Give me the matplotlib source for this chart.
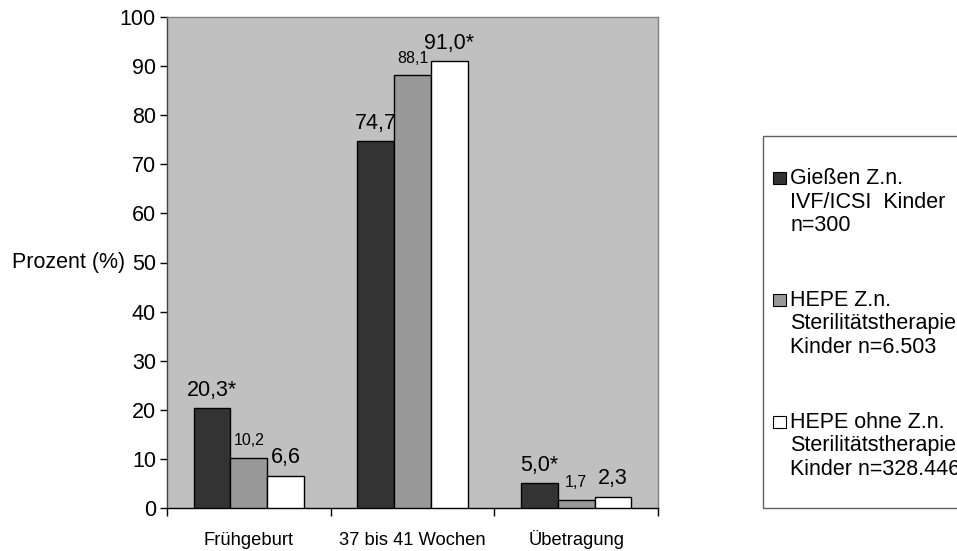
import matplotlib
matplotlib.use("Agg")
import matplotlib.pyplot as plt
from matplotlib.patches import Rectangle
import numpy as np

plt.rcParams['font.family'] = ['Liberation Sans', 'DejaVu Sans']

categories = ["Frühgeburt", "37 bis 41 Wochen", "Übetragung"]
series_names = [
    "Gießen Z.n.\nIVF/ICSI  Kinder\nn=300",
    "HEPE Z.n.\nSterilitätstherapie\nKinder n=6.503",
    "HEPE ohne Z.n.\nSterilitätstherapie\nKinder n=328.446",
]
giessen = [20.3, 74.7, 5.0]
hepe_steril = [10.2, 88.1, 1.7]
hepe_ohne = [6.6, 91.0, 2.3]
label_giessen = ["20,3*", "74,7", "5,0*"]
label_hepe_steril = ["10,2", "88,1", "1,7"]
label_hepe_ohne = ["6,6", "91,0*", "2,3"]

series = [giessen, hepe_steril, hepe_ohne]
labels = [label_giessen, label_hepe_steril, label_hepe_ohne]
colors = ["#333333", "#999999", "#ffffff"]
label_sizes = [15.5, 11.5, 15.5]

W, H = 957, 551
fig = plt.figure(figsize=(W / 100, H / 100), dpi=100)
ax = fig.add_axes([167 / W, 1 - 508 / H, (658 - 167) / W, (508 - 17) / H])
ax.set_facecolor("#c0c0c0")

x = np.arange(len(categories))
width = 0.225
for i, (vals, col, labs, fs) in enumerate(zip(series, colors, labels, label_sizes)):
    pos = x + (i - 1) * width
    bars = ax.bar(pos, vals, width, color=col, edgecolor="black", linewidth=1.0, zorder=3)
    for b, lab in zip(bars, labs):
        ax.annotate(lab, (b.get_x() + b.get_width() / 2, b.get_height()),
                    xytext=(0, 9), textcoords="offset points",
                    ha="center", va="baseline", fontsize=fs, zorder=4)

ax.set_xlim(-0.5, 2.5)
ax.set_ylim(0, 100)
ax.set_yticks(np.arange(0, 101, 10))
ax.tick_params(axis="y", labelsize=15.5, length=5, width=1, direction="out", pad=3)

ax.set_xticks(x)
ax.set_xticklabels(categories, fontsize=13.2)
for lbl in ax.get_xticklabels():
    lbl.set_va("baseline")
ax.tick_params(axis="x", which="major", length=0, pad=26.5)
ax.set_xticks([-0.5, 0.5, 1.5, 2.5], minor=True)
ax.tick_params(axis="x", which="minor", length=6, width=1, direction="out")

ax.spines["bottom"].set_color("black")
ax.spines["left"].set_color("#404040")
for side in ["top", "right"]:
    ax.spines[side].set_color("#808080")
for side in ax.spines:
    ax.spines[side].set_linewidth(1.0)

ax.set_ylabel("Prozent (%)", rotation=0, fontsize=15.5, ha="right", va="center")
ax.yaxis.set_label_coords((125 - 167) / 491, 0.5)

# legend box, running off the right edge of the figure
fig.patches.append(Rectangle((763 / W, 1 - 508 / H), 0.3, (508 - 136) / H,
                             transform=fig.transFigure, facecolor="white",
                             edgecolor="#606060", linewidth=1.0, zorder=0))
entry_baseline = [184, 306, 428]
line_step = 23.5
for name, col, yb in zip(series_names, colors, entry_baseline):
    fig.patches.append(Rectangle((773 / W, 1 - yb / H), 13 / W, 12.5 / H,
                                 transform=fig.transFigure, facecolor=col,
                                 edgecolor="black", linewidth=0.8, zorder=2))
    for k, line in enumerate(name.split("\n")):
        fig.text(790.5 / W, 1 - (yb + k * line_step) / H, line, fontsize=15.5,
                 ha="left", va="baseline")

fig.savefig("out.png", dpi=100)
